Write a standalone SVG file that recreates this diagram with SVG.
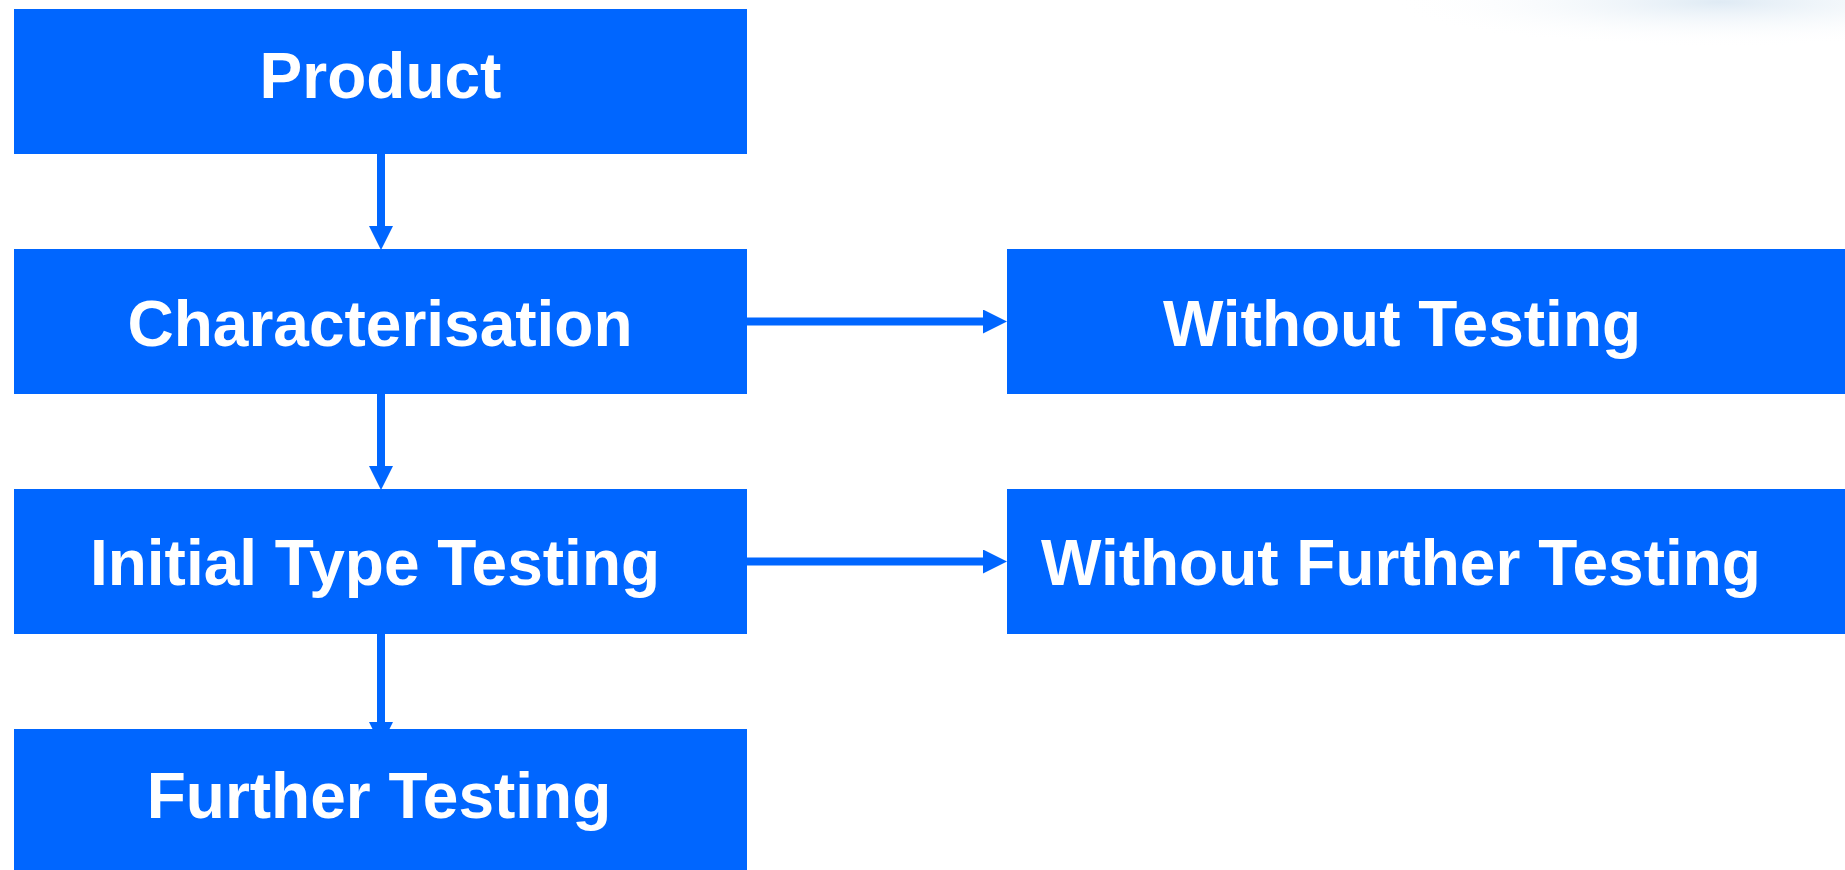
<svg xmlns="http://www.w3.org/2000/svg" width="1845" height="870" viewBox="0 0 1845 870">
  <defs>
    <style>
      .box { fill: #0066FF; }
      .label { fill: #FFFFFF; font-family: "Liberation Sans", Arial, sans-serif; font-weight: bold; font-size: 64px; text-anchor: middle; }
      .conn { stroke: #0066FF; stroke-width: 8; fill: none; marker-end: url(#head); }
    </style>
    <marker id="head" markerUnits="userSpaceOnUse" markerWidth="24" markerHeight="24" refX="0" refY="12" orient="auto" viewBox="0 0 24 24">
      <path d="M0,0 L24,12 L0,24 Z" fill="#0066FF"/>
    </marker>
    <radialGradient id="haze" cx="0.5" cy="0.5" r="0.5">
      <stop offset="0" stop-color="#dbe8f3" stop-opacity="0.9"/>
      <stop offset="1" stop-color="#ffffff" stop-opacity="0"/>
    </radialGradient>
  </defs>
  <rect width="1845" height="870" fill="#FFFFFF"/>
  <ellipse cx="1720" cy="2" rx="330" ry="45" fill="url(#haze)"/>

  <g id="connectors">
    <line class="conn" x1="381" y1="154" x2="381" y2="226"/>
    <line class="conn" x1="381" y1="394" x2="381" y2="466"/>
    <line class="conn" x1="381" y1="634" x2="381" y2="722"/>
    <line class="conn" x1="747" y1="321.5" x2="983" y2="321.5"/>
    <line class="conn" x1="747" y1="561.5" x2="983" y2="561.5"/>
  </g>

  <g id="product">
    <rect class="box" x="14" y="9" width="733" height="145"/>
    <text class="label" x="380.5" y="97.5">Product</text>
  </g>
  <g id="characterisation">
    <rect class="box" x="14" y="249" width="733" height="145"/>
    <text class="label" x="380" y="346">Characterisation</text>
  </g>
  <g id="initial-type-testing">
    <rect class="box" x="14" y="489" width="733" height="145"/>
    <text class="label" x="375" y="585">Initial Type Testing</text>
  </g>
  <g id="further-testing">
    <rect class="box" x="14" y="729" width="733" height="145"/>
    <text class="label" x="379" y="818">Further Testing</text>
  </g>
  <g id="without-testing">
    <rect class="box" x="1007" y="249" width="845" height="145"/>
    <text class="label" x="1402" y="346">Without Testing</text>
  </g>
  <g id="without-further-testing">
    <rect class="box" x="1007" y="489" width="845" height="145"/>
    <text class="label" x="1401" y="585">Without Further Testing</text>
  </g>
</svg>
